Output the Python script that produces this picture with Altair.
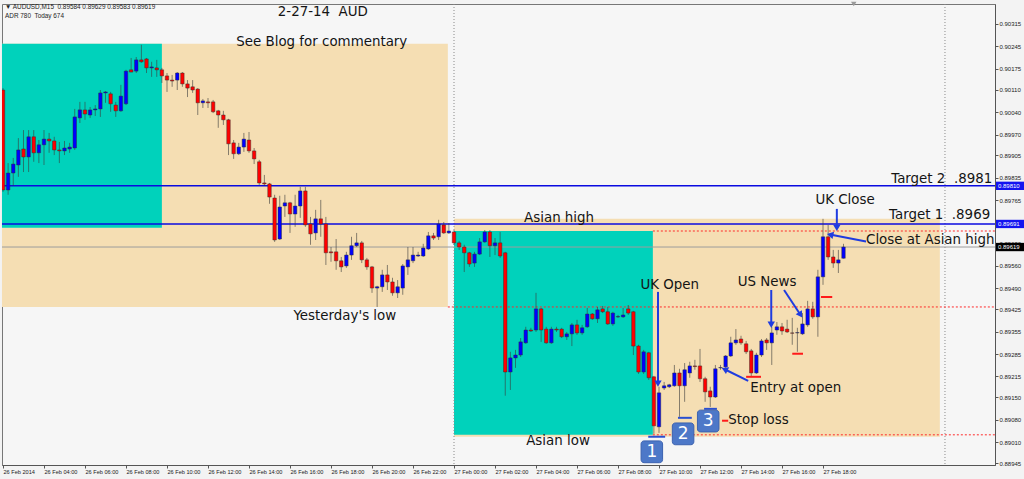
import json
import altair as alt
import pandas as pd

# AUDUSD M15 candles, 26 Feb 02:00 to 27 Feb 19:00, in points (1 point = 0.00001)
PT = 0.00001
open_pts = [
    90109, 89797, 89850, 89875, 89925, 89900, 89963, 89913, 89938, 89956,
    89950, 89922, 89919, 89925, 89928, 90022, 90047, 90031, 90047, 90050,
    90100, 90097, 90062, 90044, 90066, 90172, 90168, 90203, 90206, 90178,
    90178, 90172, 90153, 90140, 90140, 90162, 90128, 90119, 90112, 90069,
    90072, 90072, 90044, 90031, 90016, 89944, 89910, 89931, 89953, 89919,
    89885, 89819, 89816, 89772, 89644, 89747, 89757, 89722, 89747, 89794,
    89691, 89663, 89707, 89691, 89604, 89604, 89576, 89560, 89594, 89623,
    89632, 89579, 89557, 89491, 89495, 89532, 89510, 89476, 89491, 89557,
    89576, 89591, 89591, 89613, 89654, 89651, 89688, 89663, 89666, 89632,
    89619, 89601, 89569, 89597, 89635, 89666, 89623, 89632, 89601, 89229,
    89273, 89282, 89320, 89360, 89360, 89426, 89363, 89320, 89363, 89363,
    89339, 89348, 89376, 89351, 89370, 89410, 89395, 89426, 89417, 89379,
    89401, 89401, 89426, 89417, 89310, 89229, 89289, 89214, 89058, 89179,
    89183, 89186, 89226, 89186, 89226, 89248, 89248, 89208, 89170, 89151,
    89242, 89245, 89279, 89320, 89332, 89317, 89295, 89226, 89282, 89329,
    89320, 89360, 89370, 89363, 89351, 89351, 89348, 89376, 89426, 89401,
    89526, 89651, 89588, 89569, 89584,
]
high_pts = [
    90115, 89881, 89897, 89959, 89984, 89984, 89984, 89953, 89984, 89975,
    89963, 89947, 89950, 89944, 90050, 90072, 90072, 90056, 90062, 90109,
    90106, 90103, 90072, 90125, 90172, 90209, 90212, 90250, 90209, 90197,
    90203, 90178, 90162, 90156, 90165, 90165, 90140, 90140, 90115, 90081,
    90084, 90078, 90047, 90044, 90019, 89953, 89944, 89975, 89978, 89928,
    89891, 89844, 89819, 89782, 89779, 89782, 89760, 89782, 89807, 89807,
    89713, 89735, 89766, 89713, 89619, 89644, 89588, 89604, 89651, 89663,
    89638, 89585, 89560, 89498, 89548, 89563, 89523, 89516, 89566, 89619,
    89619, 89604, 89629, 89666, 89663, 89704, 89697, 89694, 89672, 89638,
    89626, 89604, 89604, 89647, 89672, 89672, 89647, 89666, 89604, 89292,
    89298, 89335, 89370, 89367, 89476, 89429, 89370, 89370, 89370, 89367,
    89354, 89382, 89392, 89376, 89429, 89413, 89432, 89435, 89432, 89417,
    89407, 89429, 89438, 89420, 89314, 89298, 89292, 89217, 89183, 89198,
    89192, 89251, 89239, 89257, 89261, 89267, 89301, 89214, 89183, 89251,
    89251, 89282, 89339, 89363, 89342, 89326, 89301, 89289, 89332, 89335,
    89370, 89385, 89382, 89392, 89398, 89367, 89413, 89451, 89448, 89548,
    89707, 89688, 89610, 89610, 89629,
]
low_pts = [
    89791, 89782, 89810, 89838, 89853, 89853, 89885, 89881, 89875, 89913,
    89906, 89881, 89906, 89913, 89922, 90006, 90016, 90022, 90028, 90025,
    90069, 90041, 90025, 90041, 90062, 90165, 90162, 90194, 90162, 90150,
    90150, 90131, 90103, 90119, 90109, 90119, 90087, 90100, 90031, 90053,
    90053, 90037, 89991, 90000, 89906, 89894, 89906, 89916, 89913, 89878,
    89813, 89810, 89754, 89635, 89641, 89713, 89663, 89682, 89710, 89682,
    89626, 89641, 89651, 89563, 89573, 89548, 89541, 89554, 89579, 89619,
    89569, 89548, 89476, 89432, 89479, 89485, 89467, 89460, 89470, 89532,
    89569, 89588, 89588, 89610, 89641, 89641, 89660, 89660, 89626, 89610,
    89541, 89557, 89557, 89594, 89632, 89588, 89594, 89585, 89155, 89173,
    89242, 89276, 89317, 89354, 89354, 89323, 89317, 89317, 89354, 89335,
    89329, 89310, 89345, 89345, 89367, 89392, 89382, 89413, 89376, 89373,
    89398, 89398, 89407, 89282, 89223, 89223, 89204, 89036, 89039, 89173,
    89179, 89183, 89089, 89136, 89211, 89236, 89198, 89136, 89120, 89148,
    89236, 89239, 89276, 89314, 89314, 89285, 89214, 89223, 89276, 89298,
    89251, 89345, 89345, 89351, 89314, 89292, 89345, 89370, 89395, 89339,
    89501, 89579, 89554, 89538, 89583,
]
close_pts = [
    89797, 89850, 89878, 89922, 89900, 89963, 89913, 89938, 89956, 89950,
    89922, 89919, 89928, 89931, 90025, 90047, 90034, 90047, 90050, 90100,
    90103, 90066, 90044, 90090, 90168, 90165, 90203, 90197, 90178, 90181,
    90172, 90153, 90140, 90137, 90162, 90128, 90115, 90109, 90069, 90075,
    90069, 90041, 90031, 90016, 89941, 89910, 89931, 89956, 89919, 89894,
    89819, 89816, 89775, 89641, 89744, 89757, 89722, 89747, 89794, 89688,
    89660, 89707, 89691, 89601, 89601, 89576, 89557, 89594, 89623, 89632,
    89579, 89557, 89491, 89495, 89532, 89510, 89476, 89495, 89560, 89579,
    89594, 89594, 89616, 89654, 89647, 89691, 89663, 89669, 89632, 89619,
    89601, 89566, 89597, 89635, 89666, 89623, 89632, 89591, 89229, 89273,
    89282, 89323, 89360, 89357, 89426, 89360, 89320, 89363, 89360, 89339,
    89348, 89376, 89351, 89367, 89410, 89395, 89423, 89417, 89379, 89413,
    89402, 89407, 89413, 89310, 89229, 89292, 89211, 89061, 89164, 89186,
    89189, 89226, 89186, 89236, 89248, 89246, 89208, 89167, 89151, 89239,
    89243, 89279, 89320, 89329, 89320, 89292, 89226, 89282, 89326, 89320,
    89351, 89370, 89357, 89354, 89350, 89352, 89379, 89426, 89401, 89526,
    89651, 89588, 89569, 89579, 89619,
]

# Time axis: one label every 8 bars (2 hours)
tick_bars = list(range(0, 161, 8))
tick_labels = [
    "26 Feb 2014", "26 Feb 04:00", "26 Feb 06:00", "26 Feb 08:00", "26 Feb 10:00",
    "26 Feb 12:00", "26 Feb 14:00", "26 Feb 16:00", "26 Feb 18:00", "26 Feb 20:00",
    "26 Feb 22:00", "27 Feb 00:00", "27 Feb 02:00", "27 Feb 04:00", "27 Feb 06:00",
    "27 Feb 08:00", "27 Feb 10:00", "27 Feb 12:00", "27 Feb 14:00", "27 Feb 16:00",
    "27 Feb 18:00",
]
price_ticks = [
    0.90315, 0.90245, 0.90175, 0.90110, 0.90040, 0.89970, 0.89905, 0.89835,
    0.89765, 0.89630, 0.89560, 0.89490, 0.89425, 0.89355, 0.89285, 0.89215,
    0.89150, 0.89080, 0.89010, 0.88945,
]

# Session boxes: (bar from, bar to, low, high)
asia_boxes = [(-0.2, 31.0, 0.89679, 0.90253), (88.0, 126.8, 0.89033, 0.89669)]
day_boxes = [(-0.2, 86.8, 0.89432, 0.90253), (88.0, 182.8, 0.89027, 0.89707)]

# Price levels
target_levels = [0.89810, 0.89691]
bid_price = 0.89619
dotted_levels = [(126.8, 0.89669), (86.8, 0.89432), (126.8, 0.89033)]
separator_bars = [88.0, 183.8]

# Short marks under/over candles: (bar from, bar to, price)
stop_marks = [(159.6, 161.8, 0.89463), (154.0, 156.1, 0.89286),
              (145.0, 147.9, 0.89214), (140.3, 141.5, 0.89077)]
low_marks = [(125.9, 129.2, 0.89027), (131.7, 134.4, 0.89086), (136.8, 139.3, 0.89114)]

# Numbered tags: (label, bar, price)
tags = [("1", 126.6, 0.88980), ("2", 132.7, 0.89036), ("3", 137.6, 0.89076)]

# Arrows: (bar from, price from, bar to, price to, head angle)
arrows = [
    (127.8, 0.89479, 127.8, 0.89196, 180),
    (149.9, 0.89485, 149.9, 0.89380, 180),
    (152.4, 0.89485, 155.5, 0.89410, 147),
    (145.4, 0.89201, 141.0, 0.89236, 296),
    (162.7, 0.89738, 162.7, 0.89682, 180),
    (168.4, 0.89636, 161.6, 0.89657, 282),
]

notes_centered = [
    ("2-27-14\u00a0\u00a0AUD", 62.4, 0.90353),
    ("See Blog for commentary", 62.2, 0.90258),
    ("Yesterday's low", 66.7, 0.89404),
    ("Asian high", 108.5, 0.89710),
    ("Asian low", 108.3, 0.89014),
    ("UK Open", 130.1, 0.89501),
    ("US News", 149.1, 0.89510),
    ("UK Close", 164.3, 0.89766),
]
notes_left = [
    ("Target 2\u00a0\u00a0.8981", 173.3, 0.89832),
    ("Target 1\u00a0\u00a0.8969", 172.9, 0.89719),
    ("Close at Asian high", 168.4, 0.89642),
    ("Entry at open", 145.8, 0.89179),
    ("Stop loss", 141.5, 0.89080),
]
price_flags = [("0.89810", 0.89810, "#1414f0"), ("0.89691", 0.89691, "#1414f0"),
               ("0.89619", 0.89619, "#000000")]

header_line1 = "\u25bc AUDUSD,M15\u00a0\u00a00.89584 0.89629 0.89583 0.89619"
header_line2 = "ADR 780\u00a0\u00a0Today 674"

# ---------------------------------------------------------------- frames
n = len(open_pts)
cd = pd.DataFrame({
    "bar": list(range(n)),
    "o": [v * PT for v in open_pts],
    "h": [v * PT for v in high_pts],
    "l": [v * PT for v in low_pts],
    "c": [v * PT for v in close_pts],
})
cd["top"] = cd[["o", "c"]].max(axis=1)
cd["bot"] = cd[["o", "c"]].min(axis=1)
cd["x0"] = cd["bar"] - 0.34
cd["x1"] = cd["bar"] + 0.34


def box_frame(rows):
    return pd.DataFrame(rows, columns=["b0", "b1", "p0", "p1"])


XS = alt.Scale(domain=[-0.195, 193.56], nice=False, zero=False)
YS = alt.Scale(domain=[0.889388, 0.903774], nice=False, zero=False)
FONT = "DejaVu Sans"
AXFONT = "Liberation Sans"

# Every layer carries the same axis definition so the shared axes merge cleanly
X_AXIS = alt.Axis(
    values=tick_bars, labelExpr=json.dumps(tick_labels) + "[round(datum.value / 8)]",
    title=None, grid=False, labelAlign="left", labelBaseline="top", labelFont=AXFONT,
    labelFontSize=5.6, labelColor="#222222", labelPadding=1, tickSize=3,
    tickColor="#555555", domainColor="#555555", labelOverlap=False, labelFlush=False,
    labelBound=False,
)
Y_AXIS = alt.Axis(
    orient="right", values=price_ticks, format=".5f", title=None, grid=False,
    labelFont=AXFONT, labelFontSize=6, labelColor="#222222", labelPadding=1,
    tickSize=3, tickColor="#555555", domainColor="#555555", labelOverlap=False,
    labelBound=False, labelFlush=False,
)


def bx(field):
    return alt.X(field, type="quantitative", scale=XS, axis=X_AXIS)


def py(field):
    return alt.Y(field, type="quantitative", scale=YS, axis=Y_AXIS)


day_layer = alt.Chart(box_frame(day_boxes)).mark_rect(color="#f5deb3").encode(
    x=bx("b0"), x2="b1:Q", y=py("p0"), y2="p1:Q")
asia_layer = alt.Chart(box_frame(asia_boxes)).mark_rect(color="#00d2bb").encode(
    x=bx("b0"), x2="b1:Q", y=py("p0"), y2="p1:Q")

sep_layer = alt.Chart(pd.DataFrame({"bar": separator_bars})).mark_rule(
    color="#8a8a8a", strokeDash=[1, 2], strokeWidth=1).encode(x=bx("bar"))

target_layer = alt.Chart(pd.DataFrame({"p": target_levels})).mark_rule(
    color="#0a0ae0", strokeWidth=1.5).encode(y=py("p"))
bid_layer = alt.Chart(pd.DataFrame({"p": [bid_price]})).mark_rule(
    color="#9c9c9c", strokeWidth=1).encode(y=py("p"))
dotted_layer = alt.Chart(pd.DataFrame(dotted_levels, columns=["b0", "p"]).assign(b1=193.56)).mark_rule(
    color="#ff2a2a", strokeDash=[2, 2], strokeWidth=1).encode(x=bx("b0"), x2="b1:Q", y=py("p"))

wick_layer = alt.Chart(cd).mark_rule(color="#3a3a3a", opacity=0.6, strokeWidth=1, clip=True).encode(
    x=bx("bar"), y=py("l"), y2="h:Q")
body_layer = alt.Chart(cd).mark_rect(stroke="#303030", strokeWidth=0.6, strokeOpacity=0.75, clip=True).encode(
    x=bx("x0"), x2="x1:Q", y=py("bot"), y2="top:Q",
    fill=alt.condition("datum.c >= datum.o", alt.value("#0000ff"), alt.value("#ff0000")),
)

stop_layer = alt.Chart(pd.DataFrame(stop_marks, columns=["b0", "b1", "p"])).mark_rule(
    color="#ff1a1a", strokeWidth=2).encode(x=bx("b0"), x2="b1:Q", y=py("p"))
low_layer = alt.Chart(pd.DataFrame(low_marks, columns=["b0", "b1", "p"])).mark_rule(
    color="#2a4fd0", strokeWidth=2).encode(x=bx("b0"), x2="b1:Q", y=py("p"))

ar = pd.DataFrame(arrows, columns=["b0", "p0", "b1", "p1", "ang"])
arrow_lines = alt.Chart(ar).mark_rule(color="#1f3ce0", strokeWidth=2).encode(
    x=bx("b0"), x2="b1:Q", y=py("p0"), y2="p1:Q")
arrow_heads = alt.Chart(ar).mark_point(shape="triangle", filled=True, size=55, color="#1f3ce0", opacity=1).encode(
    x=bx("b1"), y=py("p1"), angle=alt.Angle("ang:Q", scale=None))

tg = pd.DataFrame(tags, columns=["t", "bar", "p"])
tg["b0"], tg["b1"] = tg["bar"] - 2.1, tg["bar"] + 2.1
tg["p0"], tg["p1"] = tg["p"] - 0.00034, tg["p"] + 0.00034
tag_boxes = alt.Chart(tg).mark_rect(fill="#4d78c8", stroke="#3c62b0", strokeWidth=1, cornerRadius=3).encode(
    x=bx("b0"), x2="b1:Q", y=py("p0"), y2="p1:Q")
tag_text = alt.Chart(tg).mark_text(font=FONT, fontSize=17, color="white", baseline="middle", align="center").encode(
    x=bx("bar"), y=py("p"), text="t:N")

nc = pd.DataFrame(notes_centered, columns=["t", "bar", "p"])
nl = pd.DataFrame(notes_left, columns=["t", "bar", "p"])
notes_c = alt.Chart(nc).mark_text(font=FONT, fontSize=13.4, color="#141414", align="center", baseline="middle").encode(
    x=bx("bar"), y=py("p"), text="t:N")
notes_l = alt.Chart(nl).mark_text(font=FONT, fontSize=13.4, color="#141414", align="left", baseline="middle").encode(
    x=bx("bar"), y=py("p"), text="t:N")

pf = pd.DataFrame(price_flags, columns=["t", "p", "col"])
pf["p0"], pf["p1"] = pf["p"] - 0.00013, pf["p"] + 0.00013
flag_boxes = alt.Chart(pf).mark_rect().encode(
    x=alt.value(994), x2=alt.value(1022), y=py("p0"), y2="p1:Q",
    fill=alt.Fill("col:N", scale=None))
flag_text = alt.Chart(pf).mark_text(font=AXFONT, fontSize=6, color="white", align="left", baseline="middle").encode(
    x=alt.value(996), y=py("p"), text="t:N")

# Terminal header in the top-left corner of the chart window
header1 = alt.Chart(pd.DataFrame({"t": [header_line1]})).mark_text(
    font=AXFONT, fontSize=6.4, color="#1e1e1e", align="left", baseline="middle").encode(
    x=alt.value(3), y=alt.value(3), text="t:N")
header2 = alt.Chart(pd.DataFrame({"t": [header_line2]})).mark_text(
    font=AXFONT, fontSize=6.4, color="#1e1e1e", align="left", baseline="middle").encode(
    x=alt.value(3), y=alt.value(12), text="t:N")

shift_mark = alt.Chart(pd.DataFrame({"bar": [166.0]})).mark_point(
    shape="triangle-down", filled=True, size=30, color="#9a9a9a", opacity=1).encode(
    x=bx("bar"), y=alt.value(0))

chart = alt.layer(
    day_layer, asia_layer, sep_layer, target_layer, bid_layer, dotted_layer,
    wick_layer, body_layer, stop_layer, low_layer, arrow_lines, arrow_heads,
    tag_boxes, tag_text, notes_c, notes_l, flag_boxes, flag_text, header1, header2, shift_mark,
).properties(
    width=993, height=461,
    padding={"left": 2, "top": 4, "right": 29, "bottom": 14},
    autosize=alt.AutoSizeParams(type="none"),
    background="#f3f3f3",
).configure_view(fill="#f6f6f6", stroke="#777777", strokeWidth=1)

chart.save("out.html", embed_options={"renderer": "svg", "actions": False})
